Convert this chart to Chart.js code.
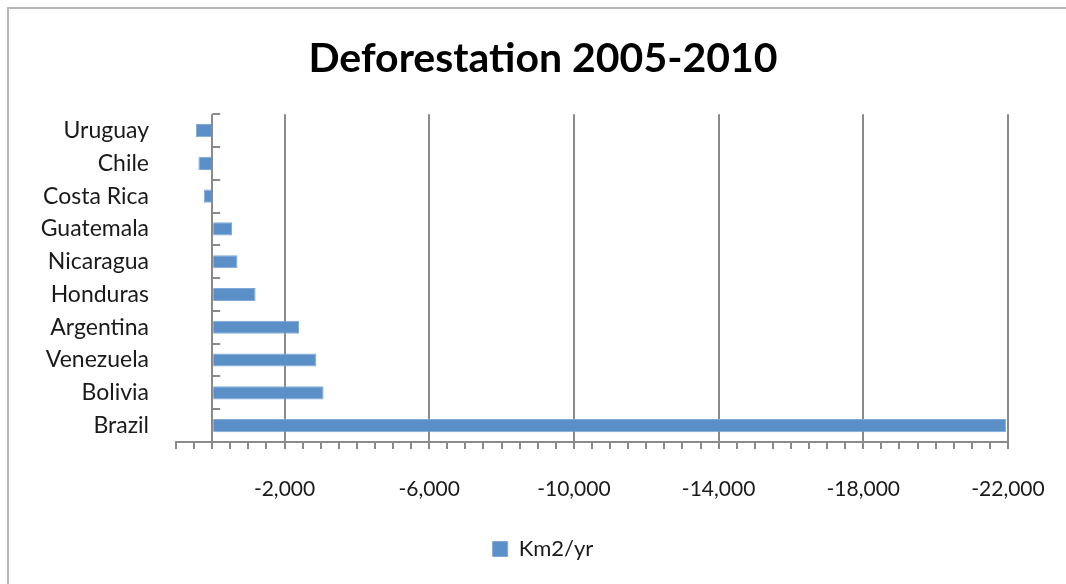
<!DOCTYPE html>
<html>
<head>
<meta charset="utf-8">
<script src="https://cdn.jsdelivr.net/npm/chart.js@4"></script>
<style>
  html, body { margin: 0; padding: 0; background: #fff; overflow: hidden; }
  #wrap { position: relative; width: 1066px; height: 584px; }
  #frame { position: absolute; left: 7px; top: 7px; width: 1200px; height: 700px;
           border-left: 2px solid #b8b8b8; border-top: 2px solid #b8b8b8; }
  canvas { position: absolute; left: 0; top: 0; }
</style>
</head>
<body>
<div id="wrap">
  <div id="frame"></div>
  <canvas id="chart" width="1066" height="584"></canvas>
</div>
<script>
// dados (km2 por ano, negativo = perda)
const paises = ['Uruguay', 'Chile', 'Costa Rica', 'Guatemala', 'Nicaragua',
                'Honduras', 'Argentina', 'Venezuela', 'Bolivia', 'Brazil'];
const valores = [450, 380, 230, -550, -700, -1200, -2400, -2880, -3080, -21950];
const nomeSerie = 'Km2/yr';
const titulo = 'Deforestation 2005-2010';

const cinza = '#8a8a8a';
const azul = '#5a8fc8';
const fonte = 'Lato, "Open Sans", sans-serif';

// pequenas marcas do eixo vertical (que passa no zero)
const marcasEixo = {
  id: 'marcasEixo',
  afterDatasetsDraw(chart) {
    const x = chart.scales.x;
    const y = chart.scales.y;
    const ctx = chart.ctx;
    const x0 = x.getPixelForValue(0);
    ctx.save();
    ctx.strokeStyle = cinza;
    ctx.lineWidth = 2;
    for (let i = 0; i <= paises.length; i++) {
      const py = Math.round(y.getPixelForValue(i - 0.5));
      ctx.beginPath();
      ctx.moveTo(x0, py);
      ctx.lineTo(x0 + 8, py);
      ctx.stroke();
    }
    ctx.restore();
  }
};

new Chart(document.getElementById('chart'), {
  type: 'bar',
  data: {
    labels: paises,
    datasets: [{
      label: nomeSerie,
      data: valores,
      backgroundColor: azul,
      borderColor: '#7ea8d8',
      borderWidth: 1,
      barPercentage: 0.8,
      categoryPercentage: 0.5
    }]
  },
  options: {
    indexAxis: 'y',
    responsive: false,
    animation: false,
    layout: { padding: { left: 20, right: 0, top: 0, bottom: 14 } },
    plugins: {
      title: {
        display: true,
        text: titulo,
        color: '#000',
        font: { family: fonte, size: 41, weight: 'bold' },
        padding: { top: 34, bottom: 31 }
      },
      legend: {
        position: 'bottom',
        labels: {
          color: '#1a1a1a',
          font: { family: fonte, size: 22 },
          boxWidth: 15,
          boxHeight: 15,
          padding: 10
        }
      },
      tooltip: { enabled: false }
    },
    scales: {
      x: {
        reverse: true,
        min: -22000,
        max: 1000,
        afterFit(scale) {
          scale.height = 86;
          scale.paddingRight = 58;
        },
        ticks: {
          stepSize: 500,
          autoSkip: false,
          maxRotation: 0,
          padding: 28,
          color: '#1a1a1a',
          font: { family: fonte, size: 21 },
          callback(v) {
            if ((v + 2000) % 4000 === 0) return v.toLocaleString('en-US');
            return '';
          }
        },
        grid: {
          drawTicks: true,
          tickLength: 7,
          tickColor: cinza,
          lineWidth: 2,
          color(ctx) {
            const v = ctx.tick ? ctx.tick.value : null;
            if (v === 0 || (v + 2000) % 4000 === 0) return cinza;
            return 'rgba(0,0,0,0)';
          }
        },
        border: { display: true, color: cinza, width: 2 }
      },
      y: {
        afterFit(scale) { scale.width = 176 - 20; },
        ticks: {
          padding: 27,
          color: '#1a1a1a',
          font: { family: fonte, size: 23 }
        },
        grid: { display: false, drawTicks: false },
        border: { display: false }
      }
    }
  },
  plugins: [marcasEixo]
});
</script>
</body>
</html>
